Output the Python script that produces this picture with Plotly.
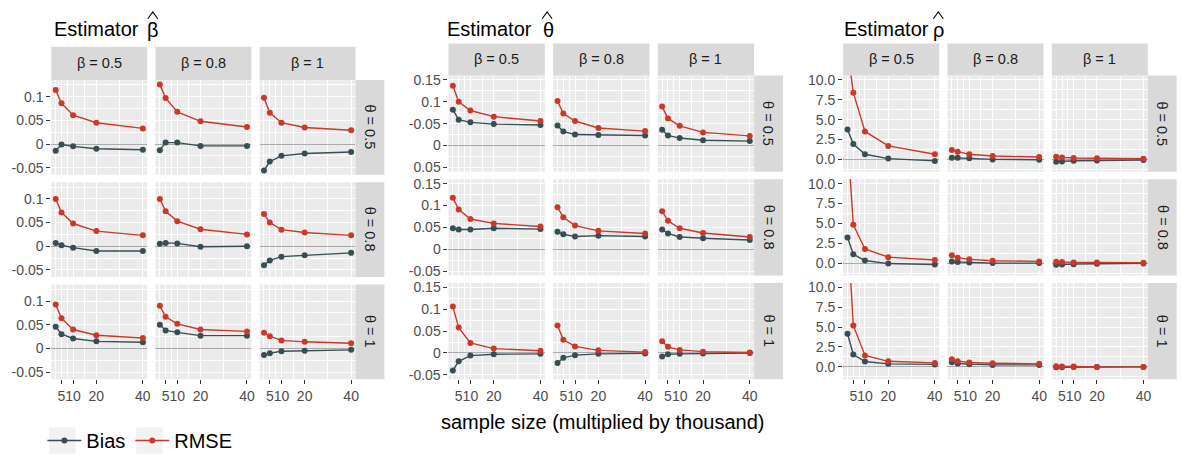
import plotly.graph_objects as go

# ---------------- data ----------------
sample_size = [2.5, 5, 10, 20, 40]
x_tick_vals = [5, 10, 20, 40]
x_tick_text = ["5", "10", "20", "40"]
beta_levels = ["0.5", "0.8", "1"]
theta_levels = ["0.5", "0.8", "1"]

# [theta row][beta column][sample size]
beta_bias = [
    [[-0.014, -0.001, -0.005, -0.010, -0.012],
     [-0.013, 0.003, 0.003, -0.004, -0.004],
     [-0.056, -0.037, -0.025, -0.020, -0.017]],
    [[0.007, 0.002, -0.003, -0.010, -0.010],
     [0.005, 0.007, 0.006, -0.001, 0.000],
     [-0.040, -0.030, -0.022, -0.019, -0.014]],
    [[0.046, 0.030, 0.021, 0.015, 0.013],
     [0.050, 0.038, 0.034, 0.027, 0.027],
     [-0.014, -0.010, -0.006, -0.005, -0.003]],
]
beta_rmse = [
    [[0.114, 0.086, 0.061, 0.045, 0.033],
     [0.126, 0.097, 0.068, 0.048, 0.036],
     [0.098, 0.066, 0.045, 0.035, 0.029]],
    [[0.100, 0.071, 0.048, 0.032, 0.023],
     [0.100, 0.074, 0.053, 0.036, 0.025],
     [0.068, 0.050, 0.035, 0.029, 0.023]],
    [[0.093, 0.064, 0.040, 0.028, 0.022],
     [0.090, 0.067, 0.052, 0.040, 0.036],
     [0.033, 0.026, 0.017, 0.014, 0.011]],
]
theta_bias = [
    [[0.082, 0.059, 0.053, 0.049, 0.047],
     [0.046, 0.032, 0.025, 0.024, 0.023],
     [0.036, 0.023, 0.017, 0.012, 0.010]],
    [[0.048, 0.045, 0.045, 0.048, 0.046],
     [0.040, 0.034, 0.029, 0.031, 0.029],
     [0.045, 0.036, 0.028, 0.025, 0.021]],
    [[-0.040, -0.019, -0.006, -0.003, -0.002],
     [-0.023, -0.011, -0.005, -0.002, -0.001],
     [-0.008, -0.003, -0.002, -0.001, 0.000]],
]
theta_rmse = [
    [[0.137, 0.100, 0.080, 0.066, 0.056],
     [0.102, 0.073, 0.056, 0.040, 0.033],
     [0.089, 0.062, 0.045, 0.030, 0.022]],
    [[0.118, 0.091, 0.069, 0.059, 0.052],
     [0.096, 0.073, 0.054, 0.042, 0.036],
     [0.087, 0.065, 0.048, 0.037, 0.028]],
    [[0.106, 0.058, 0.023, 0.010, 0.005],
     [0.063, 0.030, 0.015, 0.006, 0.002],
     [0.027, 0.014, 0.007, 0.003, 0.001]],
]
rho_bias = [
    [[3.77, 1.93, 0.65, 0.10, -0.19],
     [0.21, 0.21, 0.13, 0.00, -0.04],
     [-0.30, -0.25, -0.17, -0.13, -0.08]],
    [[3.22, 1.11, 0.32, -0.06, -0.19],
     [0.21, 0.13, 0.09, 0.00, 0.00],
     [-0.21, -0.17, -0.13, -0.09, -0.04]],
    [[4.16, 1.55, 0.67, 0.38, 0.31],
     [0.59, 0.42, 0.34, 0.25, 0.25],
     [-0.04, -0.04, 0.00, 0.00, 0.00]],
]
rho_rmse = [
    [[13.9, 8.40, 3.52, 1.70, 0.65],
     [1.19, 0.97, 0.64, 0.42, 0.30],
     [0.34, 0.25, 0.17, 0.13, 0.08]],
    [[15.8, 4.82, 1.77, 0.75, 0.38],
     [0.98, 0.68, 0.47, 0.30, 0.21],
     [0.17, 0.13, 0.09, 0.09, 0.04]],
    [[17.6, 5.21, 1.43, 0.70, 0.50],
     [0.97, 0.72, 0.55, 0.46, 0.38],
     [0.08, 0.04, 0.04, 0.00, 0.00]],
]

beta_y_ticks = [-0.05, 0, 0.05, 0.1]
beta_y_text = ["-0.05", "0", "0.05", "0.1"]
theta_y_ticks = [-0.05, 0, 0.05, 0.1, 0.15]
theta_y_text_top = ["0.05", "0", "-0.05", "0.1", "0.15"]
theta_y_text = ["-0.05", "0", "0.05", "0.1", "0.15"]
rho_y_ticks = [0, 2.5, 5, 7.5, 10]
rho_y_text = ["0.0", "2.5", "5.0", "7.5", "10.0"]

# ---------------- style / layout ----------------
W, H = 1182, 460
FONT = "Liberation Sans, Arial, sans-serif"
BIAS_COLOR = "#374E55"
RMSE_COLOR = "#C9392C"
PANEL_BG = "#EBEBEB"
STRIP_BG = "#D9D9D9"
TICK_COLOR = "#4D4D4D"
TICK_SIZE = 14
STRIP_SIZE = 14.5
BIG_SIZE = 20


def px(x):
    return x / W


def py(y):
    return 1 - y / H


groups = [
    dict(bias=beta_bias, rmse=beta_rmse, yrange=[-0.065, 0.135],
         yticks=beta_y_ticks, ytext=[beta_y_text] * 3,
         yminor=[-0.025, 0.025, 0.075, 0.125],
         cols=[(51.5, 147.7), (156.0, 252.2), (260.5, 356.7)],
         rows=[(77.3, 173.4), (181.1, 277.2), (284.9, 381.0)],
         strip_top=(43.3, 77.3), strip_right=(356.7, 385.7),
         title_x=52, sym="β", sym_x=145.5, hat_x=153.3),
    dict(bias=theta_bias, rmse=theta_rmse, yrange=[-0.06, 0.16],
         yticks=theta_y_ticks, ytext=[theta_y_text_top, theta_y_text, theta_y_text],
         yminor=[-0.025, 0.025, 0.075, 0.125],
         cols=[(450.0, 546.7), (555.0, 651.7), (660.0, 756.7)],
         rows=[(72.7, 170.3), (178.0, 275.6), (283.3, 381.0)],
         strip_top=(40.0, 72.7), strip_right=(756.7, 785.7),
         title_x=447, sym="θ", sym_x=542.5, hat_x=549.0),
    dict(bias=rho_bias, rmse=rho_rmse, yrange=[-1.55, 10.55],
         yticks=rho_y_ticks, ytext=[rho_y_text] * 3,
         yminor=[-1.25, 1.25, 3.75, 6.25, 8.75],
         cols=[(846.0, 942.4), (950.7, 1047.1), (1055.4, 1151.7)],
         rows=[(72.7, 170.3), (178.0, 275.6), (283.3, 381.0)],
         strip_top=(40.0, 72.7), strip_right=(1151.7, 1180.7),
         title_x=845, sym="ρ", sym_x=934.5, hat_x=941.5),
]

fig = go.Figure()
layout = dict(
    width=W, height=H,
    margin=dict(l=0, r=0, t=0, b=0),
    paper_bgcolor="white", plot_bgcolor=PANEL_BG,
    font=dict(family=FONT, color="#000000"),
    showlegend=True,
)
shapes = []
annotations = []

k = 0
for g_i, g in enumerate(groups):
    for r in range(3):
        for c in range(3):
            k += 1
            xa = "xaxis" if k == 1 else f"xaxis{k}"
            ya = "yaxis" if k == 1 else f"yaxis{k}"
            xr = "x" if k == 1 else f"x{k}"
            yr = "y" if k == 1 else f"y{k}"
            x0, x1 = g["cols"][c]
            y0, y1 = g["rows"][r]
            bottom = r == 2
            left = c == 0
            layout[xa] = dict(
                domain=[px(x0), px(x1)], anchor=yr, range=[0.625, 41.875],
                tickmode="array", tickvals=x_tick_vals, ticktext=x_tick_text,
                tickangle=0,
                showticklabels=bottom, ticks="outside" if bottom else "",
                ticklen=4, tickwidth=1, tickcolor="#333333",
                tickfont=dict(size=TICK_SIZE, color=TICK_COLOR, family=FONT),
                showgrid=True, gridcolor="white", gridwidth=1.1,
                minor=dict(tickvals=[2.5, 7.5, 15, 30], showgrid=True,
                           gridcolor="white", gridwidth=0.55),
                zeroline=False, showline=False, fixedrange=True,
            )
            layout[ya] = dict(
                domain=[py(y1), py(y0)], anchor=xr, range=g["yrange"],
                tickmode="array", tickvals=g["yticks"], ticktext=g["ytext"][r],
                showticklabels=left, ticks="outside" if left else "",
                ticklen=4, tickwidth=1, tickcolor="#333333",
                tickfont=dict(size=TICK_SIZE, color=TICK_COLOR, family=FONT),
                showgrid=True, gridcolor="white", gridwidth=1.1,
                minor=dict(tickvals=g["yminor"], showgrid=True,
                           gridcolor="white", gridwidth=0.55),
                zeroline=True, zerolinecolor="#ABABAB", zerolinewidth=1.1,
                showline=False, fixedrange=True,
            )
            for name, data, col in (("Bias", g["bias"], BIAS_COLOR),
                                    ("RMSE", g["rmse"], RMSE_COLOR)):
                fig.add_trace(go.Scatter(
                    x=sample_size, y=data[r][c], mode="lines+markers",
                    name=name, legendgroup=name, showlegend=(k == 1),
                    line=dict(color=col, width=1.4),
                    marker=dict(color=col, size=6),
                    xaxis=xr, yaxis=yr, hoverinfo="skip",
                ))
            # top strips
            if r == 0:
                s0, s1 = g["strip_top"]
                shapes.append(dict(type="rect", xref="paper", yref="paper",
                                   x0=px(x0), x1=px(x1), y0=py(s1), y1=py(s0),
                                   fillcolor=STRIP_BG, line=dict(width=0), layer="below"))
                annotations.append(dict(
                    text=f"β = {beta_levels[c]}", xref="paper", yref="paper",
                    x=px((x0 + x1) / 2), y=py((s0 + s1) / 2),
                    xanchor="center", yanchor="middle", showarrow=False,
                    font=dict(size=STRIP_SIZE, color="#1A1A1A", family=FONT)))
        # right strips
        s0, s1 = g["strip_right"]
        y0, y1 = g["rows"][r]
        shapes.append(dict(type="rect", xref="paper", yref="paper",
                           x0=px(s0), x1=px(s1), y0=py(y1), y1=py(y0),
                           fillcolor=STRIP_BG, line=dict(width=0), layer="below"))
        annotations.append(dict(
            text=f"θ = {theta_levels[r]}", xref="paper", yref="paper",
            x=px((s0 + s1) / 2), y=py((y0 + y1) / 2), textangle=90,
            xanchor="center", yanchor="middle", showarrow=False,
            font=dict(size=STRIP_SIZE, color="#1A1A1A", family=FONT)))
    # titles
    annotations.append(dict(
        text="Estimator", xref="paper", yref="paper",
        x=px(g["title_x"]), y=py(25), xanchor="left", yanchor="middle",
        showarrow=False, font=dict(size=BIG_SIZE, color="#000000", family=FONT)))
    annotations.append(dict(
        text=g["sym"], xref="paper", yref="paper",
        x=px(g["sym_x"]), y=py(26), xanchor="left", yanchor="middle",
        showarrow=False, font=dict(size=BIG_SIZE, color="#000000", family=FONT)))
    # hat accent drawn as a thin caret above the symbol
    hx = g["hat_x"]
    shapes.append(dict(
        type="path", xref="paper", yref="paper",
        path=(f"M {px(hx - 5)},{py(15)} L {px(hx)},{py(8)} "
              f"L {px(hx + 5)},{py(15)}"),
        line=dict(color="#000000", width=1.1)))

# x axis title
annotations.append(dict(
    text="sample size (multiplied by thousand)", xref="paper", yref="paper",
    x=px(605), y=py(424), xanchor="center", yanchor="middle", showarrow=False,
    font=dict(size=BIG_SIZE, color="#000000", family=FONT)))

# legend key backgrounds
for kx in (49.3, 136.7):
    shapes.append(dict(type="rect", xref="paper", yref="paper",
                       x0=px(kx), x1=px(kx + 26.5), y0=py(456.7), y1=py(430),
                       fillcolor="#F2F2F2", line=dict(width=0), layer="below"))

layout["shapes"] = shapes
layout["annotations"] = annotations
layout["legend"] = dict(
    orientation="h", x=px(42.5), xanchor="left", y=py(443.3), yanchor="middle",
    font=dict(size=BIG_SIZE, color="#000000", family=FONT),
    bgcolor="rgba(0,0,0,0)", itemwidth=34, tracegroupgap=0,
)
fig.update_layout(**layout)
fig.write_html("out.html")
